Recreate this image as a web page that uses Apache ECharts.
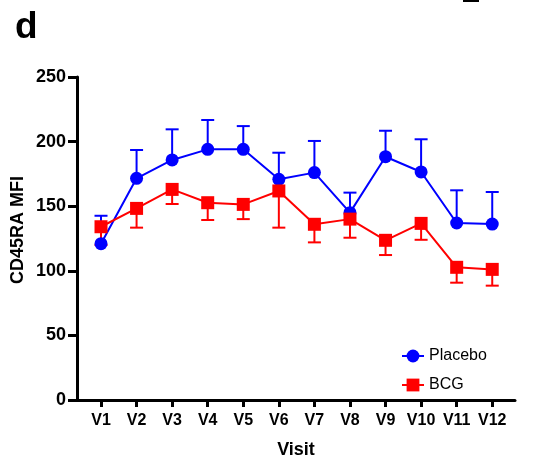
<!DOCTYPE html>
<html>
<head>
<meta charset="utf-8">
<script src="https://cdn.jsdelivr.net/npm/echarts@6/dist/echarts.min.js"></script>
<style>
html,body{margin:0;padding:0;background:#fff;}
#chart{width:541px;height:460px;}
</style>
</head>
<body>
<div id="chart"></div>
<script>
const visits = ['V1','V2','V3','V4','V5','V6','V7','V8','V9','V10','V11','V12'];
const yTicks = [0, 50, 100, 150, 200, 250];
const placeboMean  = [121, 171.6, 185.8, 194, 194, 170.8, 176, 145, 188.3, 176.5, 137, 136.2];
const placeboUpper = [142.6, 193.5, 209.5, 216.7, 212, 191.4, 200.5, 160.5, 208.4, 201.8, 162.3, 161];
const bcgMean  = [134.1, 148.3, 163, 152.7, 151.4, 161.8, 136, 140, 123.6, 136.7, 102.7, 101.1];
const bcgLower = [120, 133.4, 151.7, 139.3, 140, 133.4, 122, 125.6, 112.2, 124, 90.8, 88.5];

const FONT = '"Liberation Sans", Arial, sans-serif';
const BLUE = '#0000ff';
const RED = '#ff0000';

const xPos = visits.map((v, i) => i + 1);
const placeboLine = xPos.map((x, i) => [x, placeboMean[i]]);
const bcgLine = xPos.map((x, i) => [x, bcgMean[i]]);
const placeboErr = xPos.map((x, i) => [x, placeboMean[i], placeboUpper[i]]);
const bcgErr = xPos.map((x, i) => [x, bcgMean[i], bcgLower[i]]);

function errRenderer(color) {
  return function (params, api) {
    const x = api.value(0);
    const p0 = api.coord([x, api.value(1)]);
    const p1 = api.coord([x, api.value(2)]);
    const half = 6.5;
    const style = { stroke: color, lineWidth: 2 };
    return {
      type: 'group',
      children: [
        { type: 'line', shape: { x1: p0[0], y1: p0[1], x2: p1[0], y2: p1[1] }, style: style },
        { type: 'line', shape: { x1: p1[0] - half, y1: p1[1], x2: p1[0] + half, y2: p1[1] }, style: style }
      ]
    };
  };
}

const chart = echarts.init(document.getElementById('chart'));
chart.setOption({
  animation: false,
  backgroundColor: '#fff',
  title: {
    text: 'd', left: 10, top: 4,
    textStyle: { fontFamily: FONT, fontSize: 37, fontWeight: 'bold', color: '#000' }
  },
  graphic: [
    { type: 'rect', shape: { x: 463, y: 0, width: 16, height: 2 }, style: { fill: '#000' } },
    {
      type: 'text', x: 18, y: 230, rotation: Math.PI / 2,
      style: {
        text: 'CD45RA MFI', fontFamily: FONT, fontSize: 18, fontWeight: 'bold',
        fill: '#000', align: 'center', verticalAlign: 'middle'
      }
    }
  ],
  legend: {
    data: ['Placebo', 'BCG'],
    orient: 'vertical',
    left: 396, top: 343,
    itemWidth: 22, itemHeight: 16, itemGap: 13,
    textStyle: { fontFamily: FONT, fontSize: 16, color: '#000', padding: [0, 0, 0, 0] }
  },
  grid: { left: 77, right: 26, top: 77, bottom: 60, outerBoundsMode: 'none', containLabel: false },
  xAxis: {
    type: 'value',
    min: 0.325, max: 12.64,
    name: 'Visit',
    nameLocation: 'middle',
    nameGap: 41,
    nameTextStyle: { fontFamily: FONT, fontSize: 18, fontWeight: 'bold', color: '#000' },
    splitLine: { show: false },
    axisLine: { lineStyle: { color: '#000', width: 3 } },
    axisTick: { customValues: xPos, length: 7, lineStyle: { color: '#000', width: 3 } },
    axisLabel: {
      customValues: xPos,
      formatter: v => visits[Math.round(v) - 1] || '',
      margin: 13,
      fontFamily: FONT, fontSize: 16, fontWeight: 'bold', color: '#000'
    }
  },
  yAxis: {
    type: 'value',
    min: 0, max: 250, interval: 50,
    splitLine: { show: false },
    axisLine: { show: true, lineStyle: { color: '#000', width: 3 } },
    axisTick: { show: true, length: 9, lineStyle: { color: '#000', width: 3 } },
    axisLabel: {
      margin: 11,
      formatter: v => (yTicks.indexOf(v) >= 0 ? String(v) : ''),
      fontFamily: FONT, fontSize: 18, fontWeight: 'bold', color: '#000'
    }
  },
  series: [
    {
      name: 'PlaceboErr', type: 'custom', renderItem: errRenderer(BLUE),
      data: placeboErr, silent: true
    },
    {
      name: 'Placebo', type: 'line', data: placeboLine,
      symbol: 'circle', symbolSize: 13,
      itemStyle: { color: BLUE }, lineStyle: { color: BLUE, width: 2 },
      emphasis: { disabled: true }
    },
    {
      name: 'BCGErr', type: 'custom', renderItem: errRenderer(RED),
      data: bcgErr, silent: true
    },
    {
      name: 'BCG', type: 'line', data: bcgLine,
      symbol: 'rect', symbolSize: 13,
      itemStyle: { color: RED }, lineStyle: { color: RED, width: 2 },
      emphasis: { disabled: true }
    }
  ]
});
</script>
</body>
</html>
